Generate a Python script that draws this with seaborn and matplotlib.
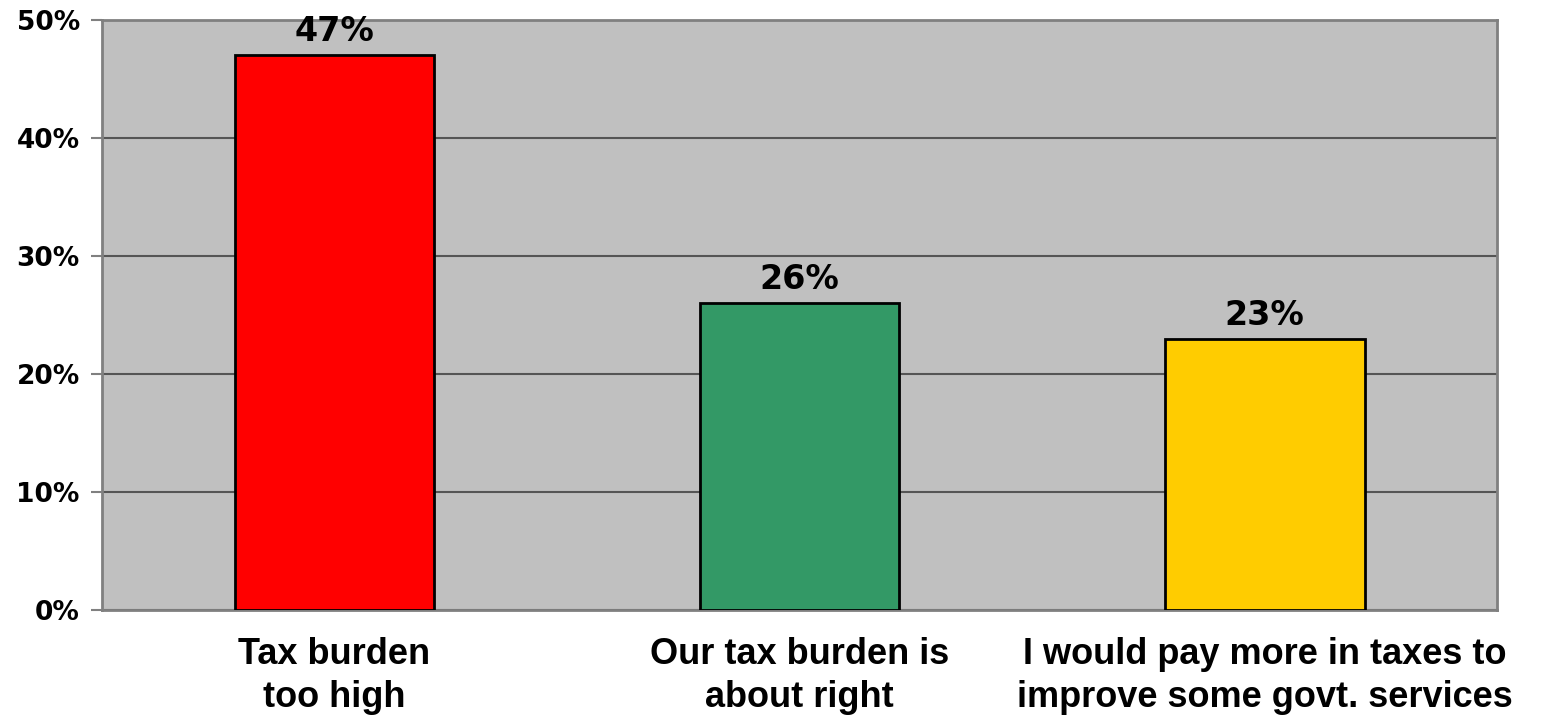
import seaborn as sns
import matplotlib.pyplot as plt
import pandas as pd
from matplotlib.ticker import PercentFormatter

# Data
categories = ["Tax burden\ntoo high",
              "Our tax burden is\nabout right",
              "I would pay more in taxes to\nimprove some govt. services"]
shares = [47, 26, 23]
bar_colors = ["#FF0000", "#339966", "#FFCC00"]
y_ticks = [0, 10, 20, 30, 40, 50]

df = pd.DataFrame({"category": categories, "share": shares})

sns.set_style("white")
plt.rcParams["font.family"] = ["DejaVu Sans"]
plt.rcParams["text.color"] = "black"
plt.rcParams["xtick.color"] = "black"
plt.rcParams["ytick.color"] = "black"

fig = plt.figure(figsize=(15.57, 7.21), dpi=100)
ax = fig.add_axes([0.0655, 0.154, 0.896, 0.8185])
ax.set_facecolor("#C0C0C0")

sns.barplot(data=df, x="category", y="share", hue="category",
            palette=bar_colors, saturation=1, legend=False, width=0.43,
            edgecolor="black", linewidth=2, ax=ax, zorder=3)

ax.set_ylim(0, 50)
ax.set_xlim(-0.5, 2.5)
ax.set_yticks(y_ticks)
ax.yaxis.set_major_formatter(PercentFormatter(decimals=0))
ax.grid(axis="y", color="#555555", linewidth=1.5, zorder=1)
ax.set_axisbelow(True)

for s in ax.spines.values():
    s.set_color("#808080")
    s.set_linewidth(2)
    s.set_visible(True)

ax.tick_params(axis="y", left=True, length=8, width=1.5, color="#808080",
               labelcolor="black", pad=8, labelsize=19)
ax.tick_params(axis="x", bottom=False, pad=16, labelcolor="black")
for lbl in ax.get_yticklabels():
    lbl.set_fontweight("bold")
for lbl in ax.get_xticklabels():
    lbl.set_fontfamily("Liberation Sans")
    lbl.set_fontweight("bold")
    lbl.set_fontsize(26)
    lbl.set_linespacing(1.3)

ax.set_xlabel("")
ax.set_ylabel("")

for container in ax.containers:
    ax.bar_label(container, labels=[f"{v:.0f}%" for v in container.datavalues],
                 padding=5, fontsize=24, fontweight="bold", color="black")

fig.savefig("out.png", dpi=100)
